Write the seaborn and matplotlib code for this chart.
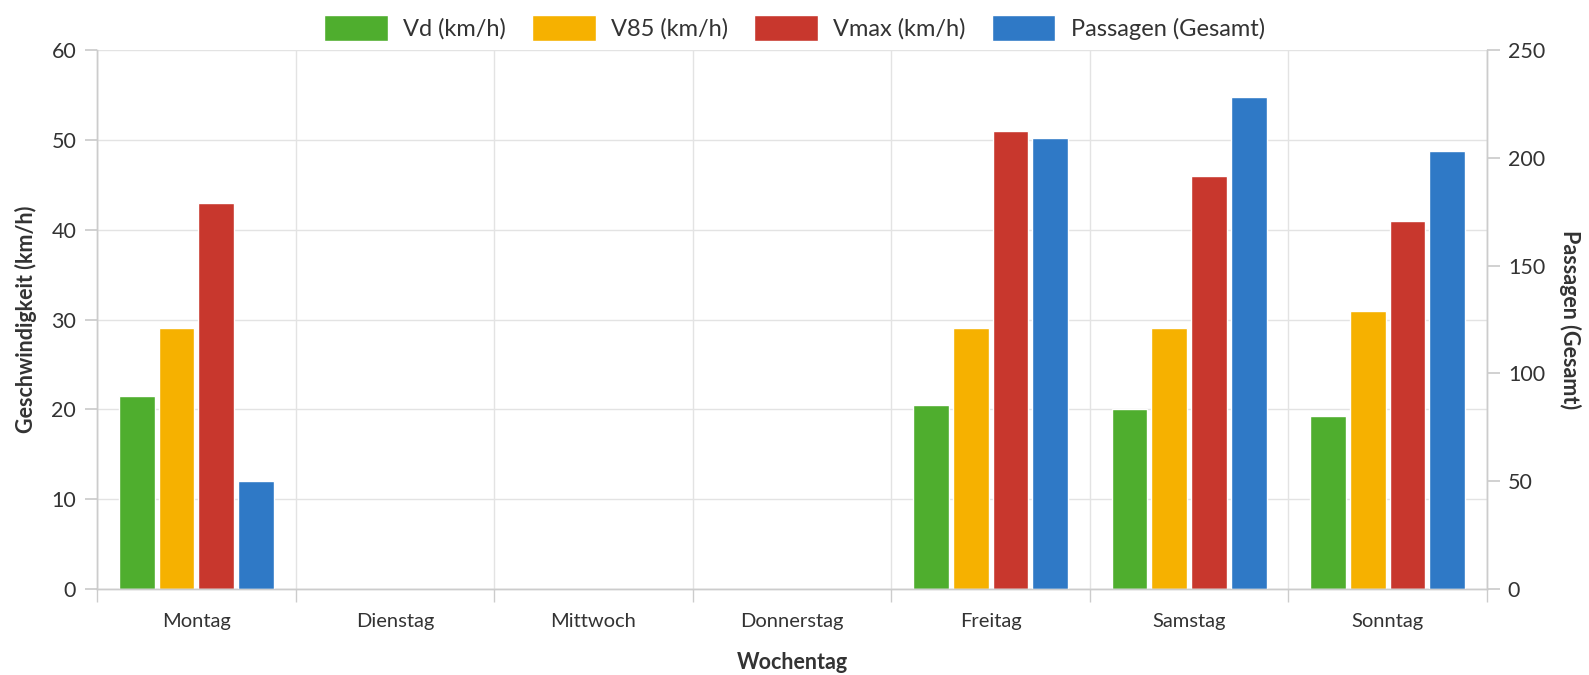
import numpy as np
import pandas as pd
import seaborn as sns
import matplotlib.pyplot as plt
from matplotlib.patches import Patch
from matplotlib.ticker import FixedLocator

nan = np.nan
days = ["Montag", "Dienstag", "Mittwoch", "Donnerstag", "Freitag", "Samstag", "Sonntag"]
vd = [21.5, nan, nan, nan, 20.5, 20.0, 19.3]
v85 = [29, nan, nan, nan, 29, 29, 31]
vmax = [43, nan, nan, nan, 51, 46, 41]
passagen = [50, nan, nan, nan, 209, 228, 203]
series = ["Vd (km/h)", "V85 (km/h)", "Vmax (km/h)", "Passagen (Gesamt)"]
colors = ["#4fae2e", "#f6b100", "#c8372d", "#2f79c6"]
left_ticks = [0, 10, 20, 30, 40, 50, 60]
right_ticks = [0, 50, 100, 150, 200, 250]

sns.set_theme(style="white")
plt.rcParams['font.family'] = ['Lato', 'DejaVu Sans']
TXT = "#333333"
GRID = "#e3e3e3"
SPINE = "#cccccc"

rows1, rows2 = [], []
vals = dict(zip(series, [vd, v85, vmax, passagen]))
for i, d in enumerate(days):
    for s in series:
        v = vals[s][i]
        if s == series[3]:
            rows1.append((d, s, nan))
            rows2.append((d, s, v))
        else:
            rows1.append((d, s, v))
            rows2.append((d, s, nan))
df1 = pd.DataFrame(rows1, columns=["Tag", "Serie", "Wert"])
df2 = pd.DataFrame(rows2, columns=["Tag", "Serie", "Wert"])
pal = dict(zip(series, colors))

fig = plt.figure(figsize=(15.89, 6.75), dpi=100)
ax1 = fig.add_axes([97/1589, 86/675, 1390/1589, 539/675])
ax2 = ax1.twinx()

kw = dict(x="Tag", y="Wert", hue="Serie", order=days, hue_order=series,
          palette=pal, width=0.80, gap=0.1, edgecolor="white", linewidth=1.0,
          errorbar=None, legend=False, saturation=1)
sns.barplot(data=df1, ax=ax1, **kw)
sns.barplot(data=df2, ax=ax2, **kw)

for ax in (ax1, ax2):
    ax.set_xlim(-0.5, 6.5)
ax1.set_ylim(0, 60)
ax2.set_ylim(0, 250)
ax1.set_yticks(left_ticks)
ax2.set_yticks(right_ticks)

# grid
ax1.yaxis.grid(True, color=GRID, linewidth=1)
ax1.xaxis.set_minor_locator(FixedLocator(np.arange(-0.5, 7, 1)))
ax1.xaxis.grid(True, which="minor", color=GRID, linewidth=1)
ax1.xaxis.grid(False, which="major")
ax1.set_axisbelow(True)
ax2.grid(False)
ax2.patch.set_visible(False)

for ax in (ax1, ax2):
    for sp in ax.spines.values():
        sp.set_color(SPINE)
        sp.set_linewidth(1)
    ax.spines["top"].set_visible(False)

ax1.tick_params(axis="y", which="major", length=9, color=SPINE, labelsize=15.5,
                labelcolor=TXT, pad=6, left=True)
ax2.tick_params(axis="y", which="major", length=9, color=SPINE, labelsize=15.5,
                labelcolor=TXT, pad=6, right=True)
ax1.tick_params(axis="x", which="major", length=0, labelsize=14.5, labelcolor=TXT, pad=17)
ax1.tick_params(axis="x", which="minor", length=9, color=SPINE, bottom=True)
ax2.tick_params(axis="x", which="both", length=0)

ax1.set_xlabel("Wochentag", fontsize=15.5, fontweight="bold", color=TXT, labelpad=16)
ax1.set_ylabel("Geschwindigkeit (km/h)", fontsize=15.5, fontweight="bold", color=TXT, labelpad=10)
ax2.set_ylabel("Passagen (Gesamt)", fontsize=15.5, fontweight="bold", color=TXT,
               rotation=270, labelpad=26)

handles = [Patch(facecolor=c, edgecolor="white", label=s) for s, c in zip(series, colors)]
fig.legend(handles=handles, loc="upper center", bbox_to_anchor=(0.5, 1.01), ncol=4,
           frameon=False, fontsize=17, handlelength=2.7, handleheight=1.35,
           columnspacing=1.1, handletextpad=0.65, labelcolor=TXT)

fig.savefig("out.png", dpi=100)
